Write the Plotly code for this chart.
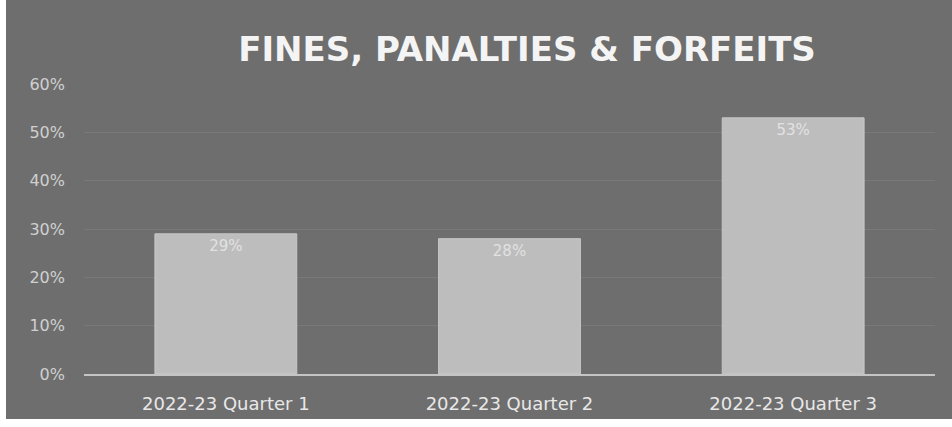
import plotly.graph_objects as go

categories = ["2022-23 Quarter 1", "2022-23 Quarter 2", "2022-23 Quarter 3"]
values = [0.29, 0.28, 0.53]
labels = ["29%", "28%", "53%"]
title_text = "FINES, PANALTIES & FORFEITS"

W, H = 952, 427
ml, mr, mt, mb = 84, 17, 84, 53
pw, ph = W - ml - mr, H - mt - mb

def px_x(p):
    return (p - ml) / pw

def px_y(p):
    return (H - mb - p) / ph

bg = "#6e6e6e"
FONT = "DejaVu Sans"

fig = go.Figure()
fig.add_trace(go.Bar(
    x=categories, y=values, text=labels,
    textposition="inside", insidetextanchor="end",
    textfont=dict(color="#e2e2e2", size=15, family=FONT),
    marker=dict(color="#bdbdbd", line=dict(color="#c8c8c8", width=1)),
    width=0.5, cliponaxis=False,
))

fig.add_shape(type="rect", xref="paper", yref="paper",
              x0=px_x(6), x1=px_x(970), y0=px_y(419), y1=px_y(-10),
              fillcolor=bg, line=dict(width=0), layer="below")

fig.update_layout(
    width=W, height=H,
    margin=dict(l=ml, r=mr, t=mt, b=mb),
    paper_bgcolor="white", plot_bgcolor=bg,
    title=dict(text="<b>" + title_text + "</b>", x=527 / W, xanchor="center",
               y=1 - 49 / H, yanchor="middle",
               font=dict(size=34, color="#f4f4f4", family=FONT)),
    showlegend=False,
    bargap=0.5,
)
fig.update_xaxes(showgrid=False, showline=True, linecolor="#c4c4c4", linewidth=2,
                 ticks="", tickfont=dict(size=18, color="#e8e8e8", family=FONT),
                 ticklabelstandoff=12)
fig.update_yaxes(range=[0, 0.6], dtick=0.1, tickformat=".0%",
                 showgrid=True, gridcolor="#797979", gridwidth=1,
                 zeroline=False, showline=False, ticks="",
                 tickfont=dict(size=16, color="#d0d0d0", family=FONT),
                 ticklabelstandoff=18)

fig.write_html("out.html", config={"displayModeBar": False},
               post_script="document.body.style.margin='0';")
